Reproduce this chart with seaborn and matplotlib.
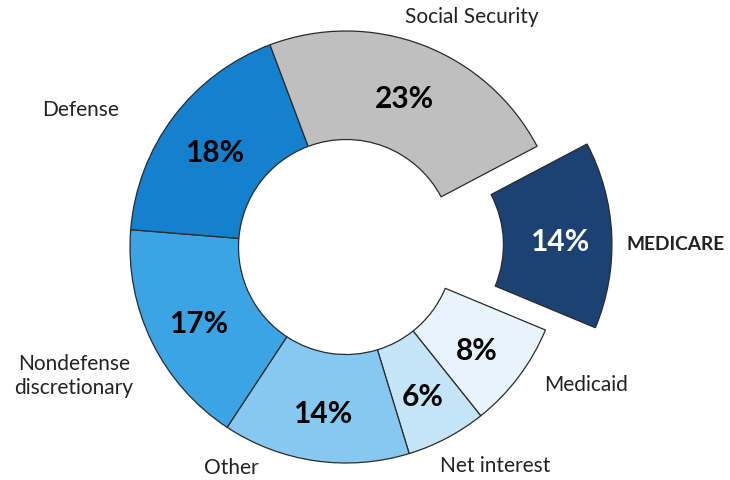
import matplotlib
matplotlib.use("Agg")
import matplotlib.pyplot as plt
import seaborn as sns

sns.set_theme(style="white")
plt.rcParams['font.family'] = ['Lato', 'DejaVu Sans']

# Data (clockwise from Medicare on the right)
categories = ["MEDICARE", "Medicaid", "Net interest", "Other",
              "Nondefense\ndiscretionary", "Defense", "Social Security"]
shares = [14, 8, 6, 14, 17, 18, 23]
colors = ["#1B4272", "#E8F4FC", "#C4E4F7", "#86C8F0",
          "#3AA4E4", "#1480CE", "#BFBFBF"]
explode_px = [50, 0, 0, 0, 0, 0, 0]

fig = plt.figure(figsize=(7.3, 4.8), dpi=100)
ax = fig.add_axes([0, 0, 1, 1])

cx, cy, R, W = 346, 233, 216, 108.5
wedges, texts, autotexts = ax.pie(
    shares, colors=colors, explode=explode_px, startangle=27.8,
    counterclock=False, radius=R, center=(cx, cy),
    wedgeprops=dict(width=W, edgecolor="#2b2b2b", linewidth=0.9),
    autopct=lambda p: f"{p:.0f}%", pctdistance=0.76, frame=True,
    textprops=dict(fontsize=21.5, fontweight="bold", color="black"))
autotexts[0].set_color("white")
for t in autotexts:
    x, y = t.get_position()
    t.set_position((x, y - 5))

ax.set_xlim(0, 730)
ax.set_ylim(0, 480)
ax.set_aspect("equal")
ax.axis("off")

label_pos = {
    "MEDICARE": (676, 236),
    "Medicaid": (586, 95),
    "Net interest": (495, 14),
    "Other": (231, 12),
    "Nondefense\ndiscretionary": (74, 104),
    "Defense": (81, 370),
    "Social Security": (472, 463),
}
for name in categories:
    x, y = label_pos[name]
    bold = name == "MEDICARE"
    ax.text(x, y, name, ha="center", va="center",
            fontsize=13.8 if bold else 15,
            fontweight="bold" if bold else "normal",
            color="#222222", linespacing=1.3)

fig.savefig("out.png", dpi=100, facecolor="white")
